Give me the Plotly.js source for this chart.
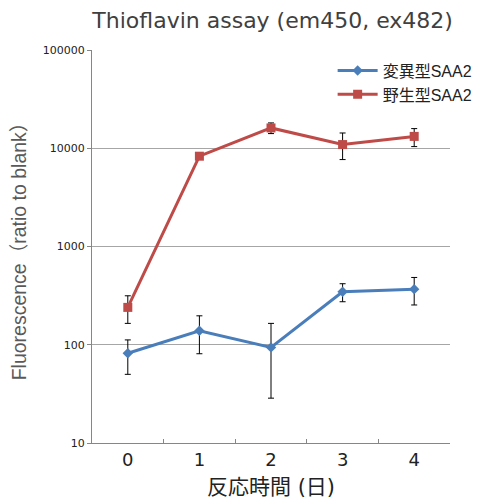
<!DOCTYPE html>
<html><head><meta charset="utf-8">
<script src="https://cdn.plot.ly/plotly-3.0.1.min.js"></script>
<style>html,body{margin:0;padding:0;background:#fff}#c{width:480px;height:501px}</style>
</head><body><div id="c"></div>
<script>
const days = ['0','1','2','3','4'];
const mutantName = '変異型SAA2';
const mutant = [82, 139, 94, 346, 368];
const mutantUp = [112, 197, 165, 418, 484];
const mutantLow = [50, 81, 28.6, 274, 254];
const wildName = '野生型SAA2';
const wild = [240, 8300, 16100, 10900, 13200];
const wildUp = [315, 8500, 18100, 14300, 15850];
const wildLow = [165, 8100, 14100, 7670, 10400];
const yTickVals = [10, 100, 1000, 10000, 100000];
const yTickText = ['10', '100', '1000', '10000', '100000'];

function errs(v, up, low) {
  return {type:'data', symmetric:false,
    array: v.map((d,i)=>up[i]-d), arrayminus: v.map((d,i)=>d-low[i]),
    color:'#000', thickness:1, width:3};
}
const lib = '"Liberation Sans", "Noto Sans CJK JP", Arial, sans-serif';
const dv = '"DejaVu Sans", "Noto Sans CJK JP", sans-serif';
const traces = [
  {x: days, y: mutant, name: mutantName, type:'scatter', mode:'lines+markers',
   line:{color:'#4a7ebb', width:3}, marker:{symbol:'diamond', size:8, color:'#4a7ebb'},
   error_y: errs(mutant, mutantUp, mutantLow)},
  {x: days, y: wild, name: wildName, type:'scatter', mode:'lines+markers',
   line:{color:'#be4b48', width:3}, marker:{symbol:'square', size:9, color:'#be4b48'},
   error_y: errs(wild, wildUp, wildLow)}
];
const layout = {
  width:480, height:501,
  margin:{l:92, r:30, t:50, b:58, autoexpand:false},
  paper_bgcolor:'#fff', plot_bgcolor:'#fff',
  font:{family:lib, color:'#404040'},
  title:{text:'Thioflavin assay (em450, ex482)', x:0.568, xanchor:'center', y:0.96, yanchor:'middle',
         font:{size:22, color:'#404040', family:dv}},
  showlegend:true,
  legend:{xref:'container', yref:'container', x:0.693, y:0.893, xanchor:'left', yanchor:'top', bgcolor:'rgba(0,0,0,0)',
          font:{size:16, color:'#222', family:lib}, itemwidth:40, tracegroupgap:0},
  xaxis:{type:'category', range:[-0.5, 4.5], showline:true, linecolor:'#868686', linewidth:1,
         ticks:'inside', tickson:'boundaries', ticklen:4, tickcolor:'#868686',
         showgrid:false, zeroline:false, tickfont:{size:18, color:'#222', family:dv},
         title:{text:'反応時間 (日)', font:{size:21, color:'#222', family:dv}, standoff:10}},
  yaxis:{type:'log', range:[1, 5], tickvals:yTickVals, ticktext:yTickText,
         showline:true, linecolor:'#868686', linewidth:1, ticks:'outside', ticklen:4, tickcolor:'#868686',
         showgrid:true, gridcolor:'#a6a6a6', gridwidth:1, zeroline:false,
         tickfont:{size:11, color:'#222', family:dv},
         title:{text:'Fluorescence（ratio to blank）', font:{size:19.5, color:'#595959', family:lib}, standoff:10}}
};
Plotly.newPlot('c', traces, layout, {displayModeBar:false, staticPlot:true});
</script></body></html>
